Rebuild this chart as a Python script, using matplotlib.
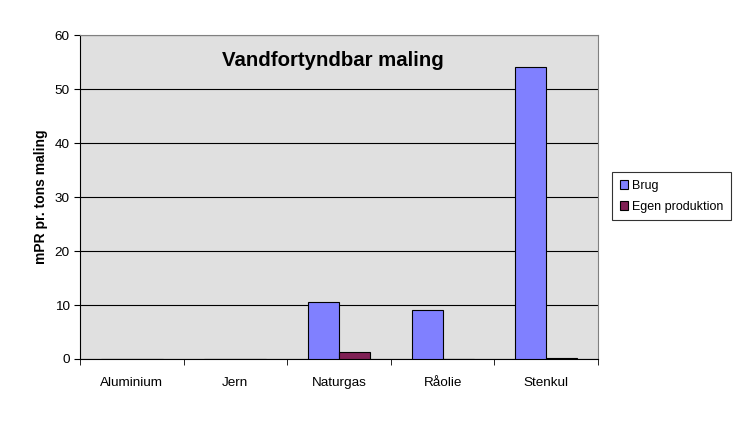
import numpy as np
import matplotlib.pyplot as plt

plt.rcParams['font.family'] = ['Liberation Sans', 'DejaVu Sans']

# Data
kategorier = ["Aluminium", "Jern", "Naturgas", "Råolie", "Stenkul"]
brug = [0, 0, 10.55, 9.1, 54.1]
egen = [0, 0, 1.3, 0, 0.2]

fig = plt.figure(figsize=(7.52, 4.25), dpi=100)
ax = fig.add_axes([0.1064, 0.1553, 0.6888, 0.7623])
ax.set_facecolor("#e0e0e0")

x = np.arange(len(kategorier))
w = 0.3
ax.bar(x - w/2, brug, width=w, color="#8080ff", edgecolor="black", linewidth=0.8,
       label="Brug", zorder=3)
ax.bar(x + w/2, egen, width=w, color="#802055", edgecolor="black", linewidth=0.8,
       label="Egen produktion", zorder=3)

ax.set_xlim(-0.5, len(kategorier) - 0.5)
ax.set_ylim(0, 60)
ax.set_yticks(range(0, 61, 10))
ax.yaxis.grid(True, color="black", linewidth=0.8, zorder=0)
ax.set_xticks(x)
ax.set_xticklabels(kategorier, fontsize=9.7)
ax.set_xticks(np.arange(-0.5, len(kategorier)), minor=True)
ax.tick_params(axis="x", which="major", length=0, pad=13)
ax.tick_params(axis="x", which="minor", length=4, direction="out")
ax.tick_params(axis="y", length=4, direction="out", labelsize=9.7)

for side in ["top", "right"]:
    ax.spines[side].set_color("#808080")
ax.spines["left"].set_color("black")
ax.spines["bottom"].set_color("black")

ax.set_ylabel("mPR pr. tons maling", fontsize=10, fontweight="bold", labelpad=5)
ax.text(0.488, 0.92, "Vandfortyndbar maling", transform=ax.transAxes,
        ha="center", va="center", fontsize=14.7, fontweight="bold")

leg = fig.legend(loc="upper left", bbox_to_anchor=(612/752, 1 - 172/425),
                 fontsize=9.0, frameon=True, fancybox=False, edgecolor="black",
                 handlelength=0.7, handleheight=0.7, handletextpad=0.3,
                 borderpad=0.6, labelspacing=0.75, borderaxespad=0)
leg.get_frame().set_linewidth(0.8)

fig.savefig("out.png", dpi=100, facecolor="white")
